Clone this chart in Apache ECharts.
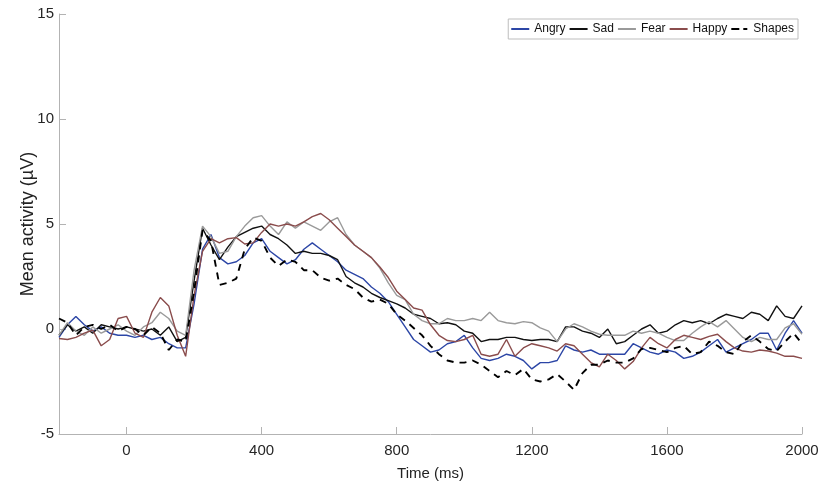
<!DOCTYPE html>
<html>
<head>
<meta charset="utf-8">
<script src="https://cdn.jsdelivr.net/npm/echarts@6/dist/echarts.min.js"></script>
<style>
html,body{margin:0;padding:0;background:#fff;}
#chart{width:825px;height:487px;}
</style>
</head>
<body>
<div id="chart"></div>
<script>
var times = [-200,-175,-150,-125,-100,-75,-50,-25,
  0,25,50,75,100,125,150,175,
  200,225,250,275,300,325,350,375,
  400,425,450,475,500,525,550,575,
  600,625,650,675,700,725,750,775,
  800,825,850,875,900,925,950,975,
  1000,1025,1050,1075,1100,1125,1150,1175,
  1200,1225,1250,1275,1300,1325,1350,1375,
  1400,1425,1450,1475,1500,1525,1550,1575,
  1600,1625,1650,1675,1700,1725,1750,1775,
  1800,1825,1850,1875,1900,1925,1950,1975,
  2000];

var angry = [-0.4,0.2,0.6,0.2,-0.1,0.1,-0.2,-0.3,
  -0.3,-0.4,-0.3,-0.5,-0.4,-0.7,-0.9,-0.9,
  1.2,3.8,4.5,3.4,3.1,3.2,3.5,4.1,
  4.3,3.7,3.4,3.1,3.3,3.8,4.1,3.8,
  3.5,3.2,2.8,2.6,2.4,2.0,1.7,1.3,
  0.7,0.1,-0.5,-0.8,-1.1,-1.0,-0.7,-0.6,
  -0.3,-0.9,-1.4,-1.5,-1.4,-1.2,-1.3,-1.5,
  -1.9,-1.6,-1.6,-1.5,-0.8,-1.0,-1.1,-1.0,
  -1.2,-1.2,-1.2,-1.2,-0.7,-0.9,-1.1,-1.2,
  -1.0,-1.1,-1.4,-1.3,-1.1,-0.8,-0.5,-1.1,
  -0.9,-0.7,-0.5,-0.2,-0.2,-1.0,-0.2,0.4,
  -0.2];

var sad = [-0.3,0.2,-0.1,0.1,-0.2,0.2,0.1,0.0,
  0.1,0.0,-0.1,0.0,-0.3,0.1,-0.6,-0.4,
  2.3,4.8,4.0,3.3,3.9,4.4,4.6,4.8,
  4.9,4.5,4.3,4.0,3.6,3.7,3.6,3.6,
  3.5,3.3,2.5,2.2,2.0,1.7,1.5,1.35,
  1.2,1.0,0.7,0.6,0.5,0.25,0.3,0.2,
  -0.1,-0.2,-0.6,-0.5,-0.5,-0.4,-0.4,-0.5,
  -0.55,-0.5,-0.5,-0.6,0.1,0.1,-0.1,-0.2,
  -0.4,0.0,-0.7,-0.6,-0.3,0.0,0.2,-0.2,
  -0.1,0.2,0.4,0.3,0.4,0.25,0.5,0.7,
  0.6,0.5,0.8,0.7,0.4,1.1,0.6,0.5,
  1.1];

var fear = [-0.3,0.3,-0.1,-0.3,0.1,-0.2,0.0,0.2,
  -0.1,-0.3,0.1,0.3,0.8,0.5,-0.1,-0.3,
  2.8,4.9,4.4,3.6,3.7,4.4,4.9,5.3,
  5.4,4.9,4.5,5.1,4.8,5.1,4.9,4.7,
  5.1,5.3,4.5,4.0,3.7,3.4,2.9,2.2,
  1.6,1.4,0.7,0.4,0.25,0.25,0.5,0.4,
  0.4,0.5,0.4,0.8,0.4,0.3,0.25,0.35,
  0.3,0.05,-0.1,-0.6,0.0,0.25,0.1,-0.1,
  -0.25,-0.3,-0.3,-0.3,-0.1,-0.2,-0.1,-0.2,
  -0.4,-0.55,-0.55,-0.2,0.1,0.35,0.1,0.4,
  0.0,-0.4,-0.6,-0.4,-0.5,-0.5,0.05,0.25,
  -0.25];

var happy = [-0.45,-0.5,-0.4,-0.2,-0.05,-0.8,-0.5,0.5,
  0.6,-0.2,-0.4,0.8,1.5,1.1,-0.3,-1.3,
  1.6,3.7,4.3,4.1,4.3,4.35,4.05,4.1,
  4.6,5.0,4.9,5.0,4.9,5.1,5.35,5.5,
  5.2,4.8,4.4,4.0,3.7,3.4,2.95,2.45,
  1.8,1.4,1.0,0.9,0.2,-0.3,-0.55,-0.6,
  -0.5,-0.3,-1.2,-1.3,-1.2,-0.5,-1.3,-0.9,
  -0.7,-0.8,-0.9,-1.05,-0.7,-0.8,-1.2,-1.6,
  -1.8,-1.2,-1.5,-1.9,-1.55,-0.9,-0.4,-0.7,
  -0.9,-0.5,-0.3,-0.4,-0.5,-0.35,-0.25,-0.6,
  -0.9,-1.05,-1.1,-1.0,-1.05,-1.15,-1.3,-1.3,
  -1.4];

var shapes = [0.5,0.3,-0.3,0.1,0.2,0.0,0.2,-0.1,
  0.1,0.0,-0.3,0.1,-0.2,-1.0,-0.5,-0.6,
  1.8,4.7,4.2,2.1,2.2,2.4,3.8,4.35,
  4.2,3.4,3.0,3.3,3.2,2.8,2.8,2.45,
  2.3,2.4,2.1,1.9,1.5,1.3,1.4,1.2,
  0.7,0.4,0.05,-0.3,-0.8,-1.2,-1.5,-1.6,
  -1.6,-1.5,-1.7,-2.0,-2.3,-2.0,-2.2,-1.9,
  -2.4,-2.5,-2.4,-2.15,-2.5,-2.9,-2.1,-1.7,
  -1.7,-1.5,-1.6,-1.6,-1.4,-0.95,-0.9,-1.0,
  -1.1,-0.9,-0.8,-1.2,-1.1,-0.6,-0.8,-1.1,
  -1.2,-0.6,-0.3,-0.6,-0.95,-1.05,-0.6,-0.2,
  -0.7];

var xTicks = [0,400,800,1200,1600,2000];
var yTicks = [-5,0,5,10,15];
var seriesNames = ['Angry','Sad','Fear','Happy','Shapes'];

function pairs(vals){
  return times.map(function(t,i){ return [t, vals[i]]; });
}

var FONT = '"Liberation Sans", Arial, Helvetica, sans-serif';
var chart = echarts.init(document.getElementById('chart'), null, {renderer:'canvas'});

function lineSeries(name, vals, color, width, type){
  return {
    name: name, type: 'line', data: pairs(vals),
    symbol: 'none', showSymbol: false, smooth: false,
    lineStyle: {color: color, width: width, type: type || 'solid'},
    itemStyle: {color: color},
    emphasis: {disabled: true}
  };
}

var solidIcon = 'path://M0,0H18V2H0Z';
var dashIcon = 'path://M0,0H8V2H0Z M12,0H16V2H12Z';

chart.setOption({
  animation: false,
  backgroundColor: '#fff',
  textStyle: {fontFamily: FONT},
  grid: {left: 59, right: 23, top: 14, bottom: 53, containLabel: false},
  legend: {
    data: seriesNames.map(function(n){ return {name: n, icon: n === 'Shapes' ? dashIcon : solidIcon}; }),
    right: 27, top: 19,
    orient: 'horizontal',
    itemWidth: 18, itemHeight: 2, itemGap: 4,
    padding: [4, 4, 4, 3],
    borderColor: '#bdbdbd', borderWidth: 1, borderRadius: 0,
    backgroundColor: '#fff',
    textStyle: {fontFamily: FONT, fontSize: 12, color: '#111'}
  },
  xAxis: {
    type: 'value', min: -200, max: 2000,
    name: 'Time (ms)', nameLocation: 'middle', nameGap: 32,
    nameTextStyle: {fontFamily: FONT, fontSize: 15, color: '#222'},
    axisLine: {show: true, onZero: false, lineStyle: {color: '#b3b3b3', width: 1}},
    axisTick: {show: true, inside: true, length: 7, customValues: xTicks, lineStyle: {color: '#b3b3b3'}},
    axisLabel: {customValues: xTicks, margin: 9, fontFamily: FONT, fontSize: 15, color: '#262626',
      formatter: function(v){ return String(v); }},
    splitLine: {show: false}
  },
  yAxis: {
    type: 'value', min: -5, max: 15, interval: 5,
    name: 'Mean activity (\u00b5V)', nameLocation: 'middle', nameGap: 22,
    nameMoveOverlap: false,
    nameTextStyle: {fontFamily: FONT, fontSize: 18, color: '#222'},
    axisLine: {show: true, onZero: false, lineStyle: {color: '#b3b3b3', width: 1}},
    axisTick: {show: true, inside: true, length: 7, customValues: yTicks, lineStyle: {color: '#b3b3b3'}},
    axisLabel: {customValues: yTicks, margin: 5, fontFamily: FONT, fontSize: 15, color: '#262626',
      formatter: function(v){ return String(v); }},
    splitLine: {show: false}
  },
  series: [
    lineSeries('Angry', angry, '#2c46a6', 1.4),
    lineSeries('Sad', sad, '#111111', 1.4),
    lineSeries('Fear', fear, '#9a9a9a', 1.4),
    lineSeries('Happy', happy, '#8a4c4c', 1.4),
    lineSeries('Shapes', shapes, '#000000', 1.9, [7, 6])
  ]
});
</script>
</body>
</html>
